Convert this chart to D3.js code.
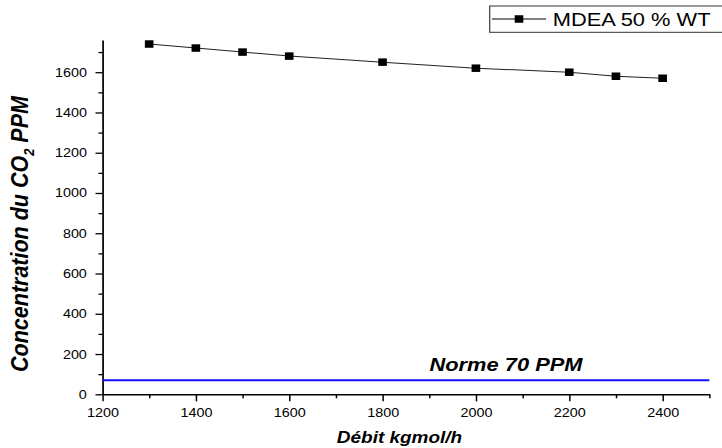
<!DOCTYPE html>
<html lang="en">
<head>
<meta charset="utf-8">
<title>MDEA CO2</title>
<script src="https://d3js.org/d3.v7.min.js"></script>
<style>
  body { margin: 0; background: #fff; }
  svg { display: block; font-family: Arial, "Liberation Sans", sans-serif; }
</style>
</head>
<body>
<div class="plot"></div>
<script>
// data
const debit = [1300, 1400, 1500, 1600, 1800, 2000, 2200, 2300, 2400];
const co2ppm = [1740, 1720, 1700, 1680, 1650, 1620, 1600, 1580, 1570];
const norme = 70;
const xTicks = [1200, 1400, 1600, 1800, 2000, 2200, 2400];
const yTicks = [0, 200, 400, 600, 800, 1000, 1200, 1400, 1600];
const seriesName = "MDEA 50 % WT";
const normeLabel = "Norme 70 PPM";

// the original picture is stretched horizontally, so draw in a narrower viewBox
const SX = 1.15;
const width = 722, height = 448;
const vbW = width / SX;

const svg = d3.select(".plot")
    .append("svg")
    .attr("width", width)
    .attr("height", height)
    .attr("viewBox", `0 0 ${vbW} ${height}`)
    .attr("preserveAspectRatio", "none");

const x = d3.scaleLinear().domain([1200, 2500]).range([102.5 / SX, 709.3 / SX]);
const y = d3.scaleLinear().domain([0, 1760]).range([394.3, 40]);

// minor ticks
svg.append("g")
    .attr("transform", `translate(0,${y(0)})`)
    .call(d3.axisBottom(x).tickValues(d3.range(1300, 2501, 200)).tickSize(4).tickSizeOuter(0).tickFormat(""))
    .call(g => g.select(".domain").remove())
    .selectAll("line").attr("stroke-width", 1.3);
svg.append("g")
    .attr("transform", `translate(${x(1200)},0)`)
    .call(d3.axisLeft(y).tickValues(d3.range(100, 1701, 200)).tickSize(4 / SX).tickSizeOuter(0).tickFormat(""))
    .call(g => g.select(".domain").remove())
    .selectAll("line").attr("stroke-width", 1.3);

// major axes
const xAxis = svg.append("g")
    .attr("transform", `translate(0,${y(0)})`)
    .call(d3.axisBottom(x).tickValues(xTicks).tickFormat(d3.format("d"))
        .tickSize(7).tickSizeOuter(0).tickPadding(7));
const yAxis = svg.append("g")
    .attr("transform", `translate(${x(1200)},0)`)
    .call(d3.axisLeft(y).tickValues(yTicks).tickFormat(d3.format("d"))
        .tickSize(7 / SX).tickSizeOuter(0).tickPadding(7.5));

[xAxis, yAxis].forEach(g => {
    g.select(".domain").attr("stroke-width", 1.5);
    g.selectAll(".tick line").attr("stroke-width", 1.3);
    g.selectAll(".tick text")
        .attr("font-family", "Arial, 'Liberation Sans', sans-serif")
        .attr("font-size", 12.5)
        .attr("fill", "#000");
});

// norme line
svg.append("line")
    .attr("x1", x(1200)).attr("x2", x(2500))
    .attr("y1", y(norme)).attr("y2", y(norme))
    .attr("stroke", "#1010ff")
    .attr("stroke-width", 2);

svg.append("text")
    .attr("x", 506 / SX)
    .attr("y", 371)
    .attr("text-anchor", "middle")
    .attr("font-size", 19)
    .attr("font-weight", "bold")
    .attr("font-style", "italic")
    .text(normeLabel);

// series
const pts = debit.map((d, i) => [d, co2ppm[i]]);
svg.append("path")
    .datum(pts)
    .attr("fill", "none")
    .attr("stroke", "#222")
    .attr("stroke-width", 1)
    .attr("d", d3.line().x(d => x(d[0])).y(d => y(d[1])));

const ms = 7.5;
svg.selectAll(".marker")
    .data(pts)
    .enter()
    .append("rect")
    .attr("class", "marker")
    .attr("x", d => x(d[0]) - ms / 2)
    .attr("y", d => y(d[1]) - ms / 2)
    .attr("width", ms)
    .attr("height", ms)
    .attr("fill", "#000");

// legend
const legend = svg.append("g");
legend.append("rect")
    .attr("x", 489.7 / SX)
    .attr("y", 6)
    .attr("width", vbW)
    .attr("height", 26.3)
    .attr("fill", "#fff")
    .attr("stroke", "#333")
    .attr("stroke-width", 1);
legend.append("line")
    .attr("x1", 492 / SX).attr("x2", 546 / SX)
    .attr("y1", 19).attr("y2", 19)
    .attr("stroke", "#000").attr("stroke-width", 1);
legend.append("rect")
    .attr("x", 519 / SX - ms / 2)
    .attr("y", 19 - ms / 2)
    .attr("width", ms).attr("height", ms)
    .attr("fill", "#000");
legend.append("text")
    .attr("x", 552.7 / SX)
    .attr("y", 26)
    .attr("font-size", 19)
    .text(seriesName);

// axis titles
svg.append("text")
    .attr("x", 399.5 / SX)
    .attr("y", 442.7)
    .attr("text-anchor", "middle")
    .attr("font-size", 16.5)
    .attr("font-weight", "bold")
    .attr("font-style", "italic")
    .text("Débit kgmol/h");

const yTitle = svg.append("text")
    .attr("transform", `translate(${28 / SX},234) rotate(-90)`)
    .attr("text-anchor", "middle")
    .attr("font-size", 21.5)
    .attr("font-weight", "bold")
    .attr("font-style", "italic");
yTitle.append("tspan").text("Concentration du CO");
yTitle.append("tspan").attr("font-size", 13).attr("dy", 5).text("2");
yTitle.append("tspan").attr("dy", -5).text(" PPM");
</script>
</body>
</html>
